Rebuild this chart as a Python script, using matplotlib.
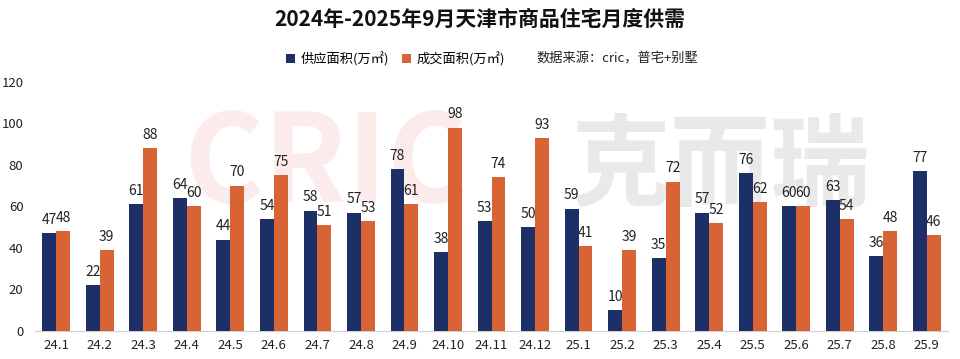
import numpy as np
import matplotlib
matplotlib.use("Agg")
import matplotlib.pyplot as plt

plt.rcParams['font.family'] = ['Noto Sans CJK SC', 'DejaVu Sans']

months = ["24.1", "24.2", "24.3", "24.4", "24.5", "24.6", "24.7", "24.8", "24.9",
          "24.10", "24.11", "24.12", "25.1", "25.2", "25.3", "25.4", "25.5", "25.6",
          "25.7", "25.8", "25.9"]
supply = [47, 22, 61, 64, 44, 54, 58, 57, 78, 38, 53, 50, 59, 10, 35, 57, 76, 60, 63, 36, 77]
deal = [48, 39, 88, 60, 70, 75, 51, 53, 61, 98, 74, 93, 41, 39, 72, 52, 62, 60, 54, 48, 46]

navy = "#1c2f66"
orange = "#d86335"

fig = plt.figure(figsize=(9.6, 3.59), dpi=100)
ax = fig.add_axes([0.036, 0.078, 0.952, 0.694])

x = np.arange(len(months))
w = 0.32
b1 = ax.bar(x - w / 2, supply, w, color=navy, label="供应面积(万㎡)", zorder=3)
b2 = ax.bar(x + w / 2, deal, w, color=orange, label="成交面积(万㎡)", zorder=3)

for bars in (b1, b2):
    for r in bars:
        ax.text(r.get_x() + r.get_width() / 2, r.get_height() + 3, f"{r.get_height():.0f}",
                ha="center", va="bottom", fontsize=10, color="#222222", zorder=4)

ax.set_xlim(-0.5, len(months) - 0.5)
ax.set_ylim(0, 120)
ax.set_yticks(range(0, 121, 20))
ax.set_xticks(x)
ax.set_xticklabels(months)
ax.tick_params(axis="both", length=0, labelsize=9.5, colors="#222222")
ax.tick_params(axis="y", pad=8)
ax.tick_params(axis="x", pad=6)
for s in ("top", "right", "left"):
    ax.spines[s].set_visible(False)
ax.spines["bottom"].set_color("#d0d0d0")

# watermark (logo)
ax.text(0.318, 0.66, "CRIC", transform=ax.transAxes, fontsize=88, fontweight="bold",
        style="italic", color="#e8282b", alpha=0.09, ha="center", va="center", zorder=1)
ax.text(0.75, 0.655, "克而瑞", transform=ax.transAxes, fontsize=72, fontweight="bold",
        color="#e4e4e4", alpha=0.8, ha="center", va="center", zorder=1)

fig.text(0.5, 0.945, "2024年-2025年9月天津市商品住宅月度供需", ha="center", va="center",
         fontsize=15, fontweight="bold", color="#111111")
fig.legend(handles=[b1, b2], loc="center", bbox_to_anchor=(0.412, 0.835), ncol=2, frameon=False,
           fontsize=9.5, handlelength=0.7, handleheight=0.7, columnspacing=1.0, handletextpad=0.4)
fig.text(0.559, 0.835, "数据来源：cric，普宅+别墅", ha="left", va="center", fontsize=9.5, color="#222222")

fig.savefig("out.png", dpi=100)
